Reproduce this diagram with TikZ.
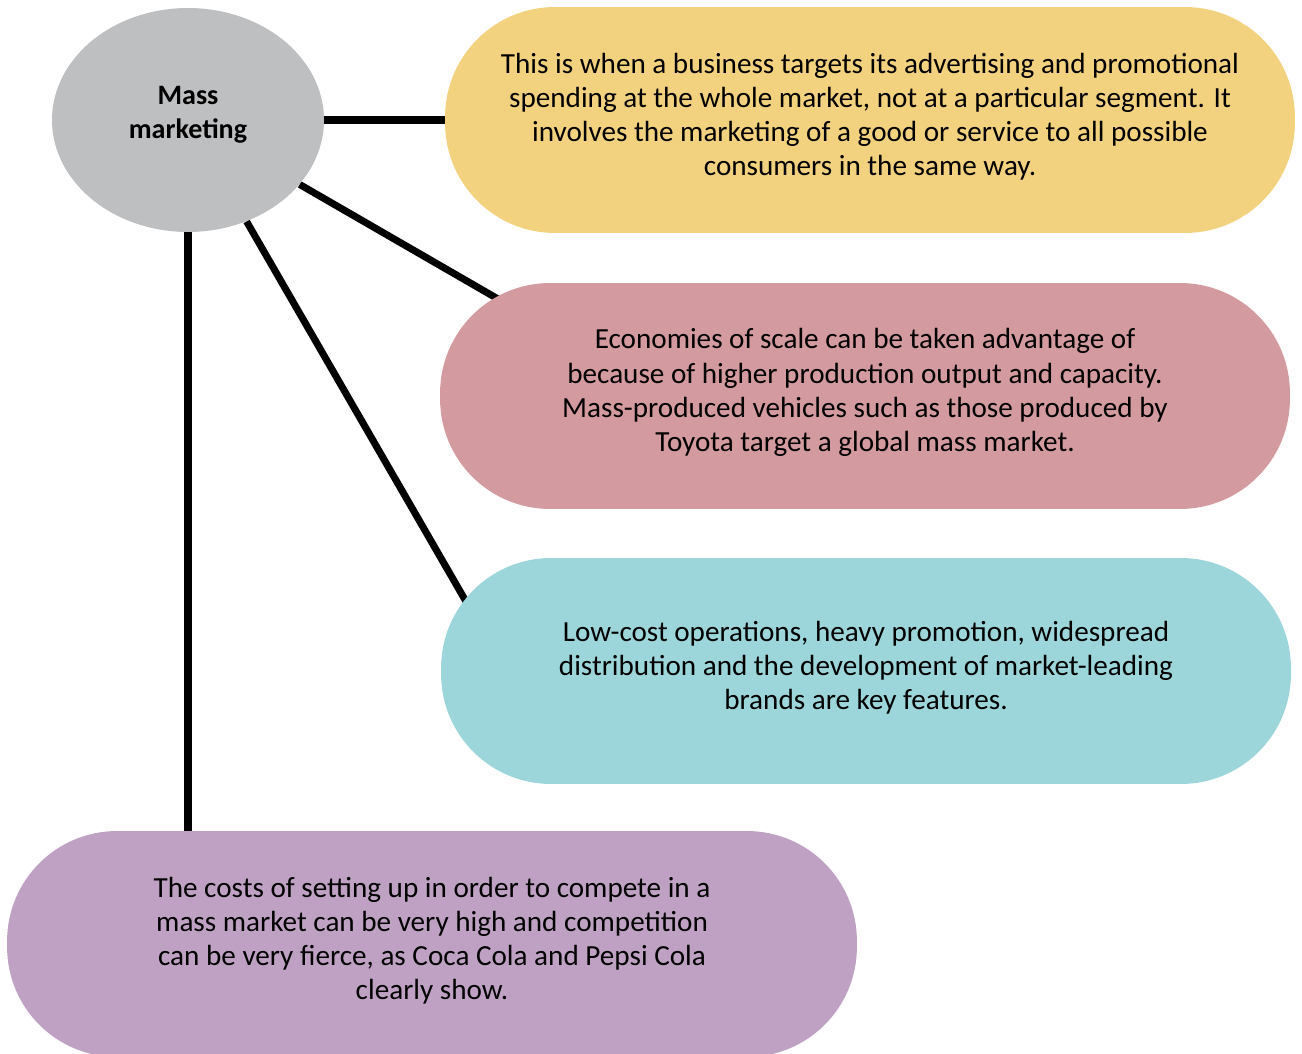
\documentclass[tikz,border=0pt]{standalone}
\usepackage{fontspec}
\setmainfont{Carlito}
\usepackage{tikz}
\usetikzlibrary{shapes.geometric,backgrounds}
\definecolor{hubgrey}{HTML}{BEBFC1}
\definecolor{sand}{HTML}{F3D27F}
\definecolor{rose}{HTML}{D39A9F}
\definecolor{aqua}{HTML}{9DD6DA}
\definecolor{lilac}{HTML}{BFA1C4}

\begin{document}
\begin{tikzpicture}[
  x=0.02cm, y=-0.02cm,
  hub/.style={ellipse, fill=hubgrey, minimum width=5.44cm, minimum height=4.48cm, inner sep=0pt, align=center, font=\fontsize{16}{19.3}\selectfont\bfseries},
  pill/.style={rounded corners=2.2cm, minimum width=17cm, minimum height=4.52cm, inner sep=0pt, align=center, font=\fontsize{16.6}{19.4}\selectfont},
  link/.style={line width=4pt, black}
]
\useasboundingbox (0,0) rectangle (1302,1054);

\node[hub] (mass) at (188,120) {Mass\\marketing\vspace{6pt}};
\node[pill, fill=sand] (meaning) at (870,120) {This is when a business targets its advertising and promotional\\spending at the whole market, not at a particular segment. It\\involves the marketing of a good or service to all possible\\consumers in the same way.\vspace{4pt}};
\node[pill, fill=rose] (scale) at (865,396) {Economies of scale can be taken advantage of\\because of higher production output and capacity.\\Mass-produced vehicles such as those produced by\\Toyota target a global mass market.\vspace{4pt}};
\node[pill, fill=aqua] (features) at (866,671) {Low-cost operations, heavy promotion, widespread\\distribution and the development of market-leading\\brands are key features.\vspace{4pt}};
\node[pill, fill=lilac] (costs) at (432,944) {The costs of setting up in order to compete in a\\mass market can be very high and competition\\can be very fierce, as Coca Cola and Pepsi Cola\\clearly show.\vspace{4pt}};

% connectors run under the boxes (y axis points down here)
\begin{scope}[on background layer]
\draw[link] (mass) -- (meaning);
\draw[link] (mass.-30) -- ++(30:300);
\draw[link] (mass.-60) -- ++(60:490);
\draw[link] (mass.south) -- (mass.south |- costs.north);
\end{scope}
\end{tikzpicture}
\end{document}
